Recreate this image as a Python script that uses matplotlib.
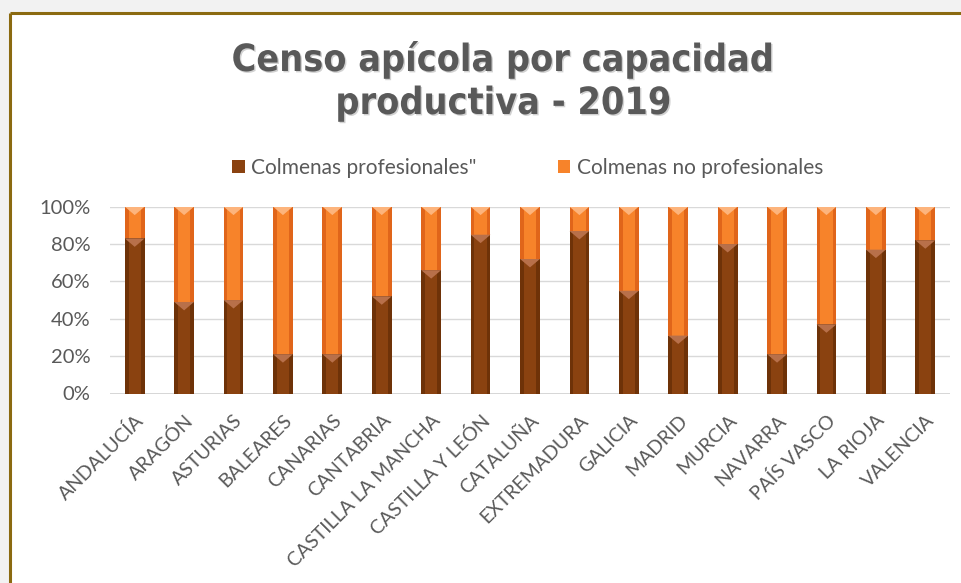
import matplotlib
matplotlib.use("Agg")
import matplotlib.pyplot as plt
import matplotlib.patheffects as pe
from matplotlib.lines import Line2D
from matplotlib.patches import Rectangle
import numpy as np


REGIONES = ["ANDALUCÍA", "ARAGÓN", "ASTURIAS", "BALEARES", "CANARIAS",
            "CANTABRIA", "CASTILLA LA MANCHA", "CASTILLA Y LEÓN", "CATALUÑA",
            "EXTREMADURA", "GALICIA", "MADRID", "MURCIA", "NAVARRA",
            "PAÍS VASCO", "LA RIOJA", "VALENCIA"]

# share of professional hives (per cent)
PROFESIONALES = [83, 49, 50, 21, 21, 52, 66, 85, 72, 87, 55, 31, 80, 21, 37, 77, 82]
NO_PROFESIONALES = [100 - p for p in PROFESIONALES]

Y_TICKS = [0, 20, 40, 60, 80, 100]
Y_LABELS = ["0%", "20%", "40%", "60%", "80%", "100%"]

TITULO = ["Censo apícola por capacidad", "productiva - 2019"]
SERIES = ['Colmenas profesionales"', "Colmenas no profesionales"]

GRAY = "#595959"
BROWN_EDGE = "#6E3208"
BROWN = "#8A4210"
BROWN_CAP = "#B8704A"
ORANGE_EDGE = "#E0651A"
ORANGE = "#F7832A"
ORANGE_CAP = "#FDB47C"

plt.rcParams["font.family"] = ["Lato", "DejaVu Sans"]

fig = plt.figure(figsize=(9.61, 5.83), dpi=100)
fig.patch.set_facecolor("#F2F2F2")

# white chart area with the golden frame (top and left edges visible)
fig.add_artist(Rectangle((10 / 961, 0), 1, 1 - 13 / 583, transform=fig.transFigure,
                         facecolor="white", edgecolor="none", zorder=0))
fig.add_artist(Line2D([9.5 / 961, 1], [1 - 13 / 583, 1 - 13 / 583], transform=fig.transFigure,
                      color="#8B6A10", lw=2.2, solid_capstyle="butt"))
fig.add_artist(Line2D([9.5 / 961, 9.5 / 961], [0, 1 - 13 / 583], transform=fig.transFigure,
                      color="#8B6A10", lw=2.2, solid_capstyle="butt"))

ax = fig.add_axes([110 / 961, 1 - 393.5 / 583, 840 / 961, 186.8 / 583])
ax.set_facecolor("none")

x = np.arange(len(REGIONES))
pro = np.array(PROFESIONALES, dtype=float)
nopro = np.array(NO_PROFESIONALES, dtype=float)
w = 0.40
cap_h = 4.5

# outer (darker edge) bars and inner lighter bars for a bevelled look
ax.bar(x, pro, w, color=BROWN_EDGE, zorder=3)
ax.bar(x, nopro, w, bottom=pro, color=ORANGE_EDGE, zorder=3)
ax.bar(x, pro, w * 0.62, color=BROWN, zorder=4)
ax.bar(x, nopro, w * 0.62, bottom=pro, color=ORANGE, zorder=4)

for xi, p, q in zip(x, pro, nopro):
    top = p + q
    ax.fill([xi - w / 2, xi + w / 2, xi], [p, p, p - cap_h], color=BROWN_CAP, zorder=5, lw=0)
    ax.fill([xi - w / 2, xi + w / 2, xi], [top, top, top - cap_h], color=ORANGE_CAP, zorder=5, lw=0)

ax.set_xlim(-0.5, len(REGIONES) - 0.5)
ax.set_ylim(0, 100)
ax.set_yticks(Y_TICKS)
ax.set_yticklabels(Y_LABELS, fontsize=14.5, color=GRAY)
ax.set_xticks(x)
ax.set_xticklabels(REGIONES, rotation=45, ha="right", rotation_mode="anchor",
                   fontsize=14, color=GRAY)
ax.tick_params(length=0, axis="both")
ax.tick_params(axis="y", pad=14)
ax.tick_params(axis="x", pad=13)
ax.grid(True, axis="y", color="#D9D9D9", lw=1, zorder=0)
for s in ax.spines.values():
    s.set_visible(False)
ax.axhline(0, color="#D0D0D0", lw=1.2, zorder=1)

shadow = [pe.SimplePatchShadow(offset=(1.0, -1.0), alpha=0.2), pe.Normal()]
for txt, ypix in zip(TITULO, [60, 104]):
    fig.text(0.524, 1 - ypix / 583, txt, ha="center", va="center", fontsize=27,
             fontweight="bold", fontstretch="condensed", color=GRAY,
             family=["DejaVu Sans"], path_effects=shadow)

handles = [Rectangle((0, 0), 1, 1, facecolor=BROWN), Rectangle((0, 0), 1, 1, facecolor=ORANGE)]
fig.legend(handles, SERIES, loc="center", bbox_to_anchor=(0.549, 1 - 168 / 583), ncol=2,
           frameon=False, fontsize=15, labelcolor=GRAY, handlelength=0.6, handleheight=0.6,
           handletextpad=0.3, columnspacing=3.9)

fig.savefig("out.png", dpi=100)
